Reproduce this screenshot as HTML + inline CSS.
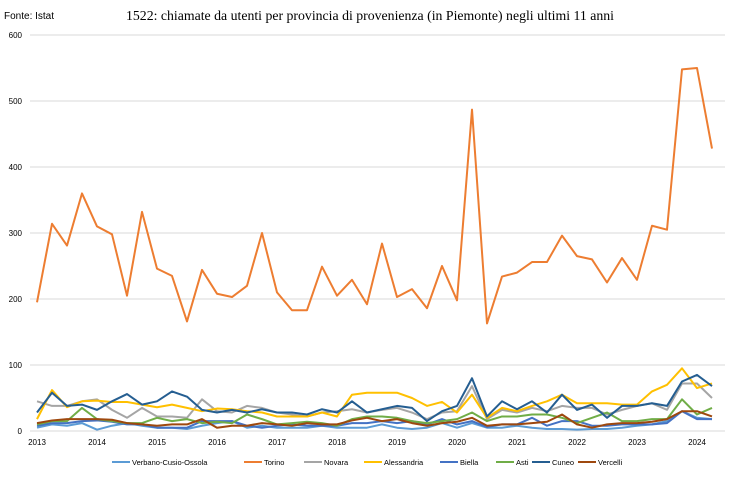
<!DOCTYPE html><html><head><meta charset="utf-8"><style>
body{margin:0;background:#fff;width:730px;height:477px;overflow:hidden;font-family:"Liberation Sans",sans-serif}
</style></head><body>
<svg id="s" width="730" height="477" xmlns="http://www.w3.org/2000/svg">
<rect width="730" height="477" fill="#fff"/>
<text x="4" y="19" font-size="10" font-family="Liberation Sans">Fonte: Istat</text>
<text x="126" y="20" font-size="13.8" font-family="Liberation Serif">1522: chiamate da utenti per provincia di provenienza (in Piemonte) negli ultimi 11 anni</text>
</svg>
<script>
const s=document.getElementById('s');const NS='http://www.w3.org/2000/svg';
function el(t,a,txt){const e=document.createElementNS(NS,t);for(const k in a)e.setAttribute(k,a[k]);if(txt!==undefined)e.textContent=txt;s.appendChild(e);return e;}
const Y=v=>431-v*0.66, X=i=>37+15*i;
for(let v=0;v<=600;v+=100){el('line',{x1:30,x2:725,y1:Y(v),y2:Y(v),stroke:'#d9d9d9','stroke-width':1});
el('text',{x:22,y:Y(v)+3,'font-size':8,'text-anchor':'end'},v);}
for(let y=2013;y<=2024;y++)el('text',{x:37+(y-2013)*60,y:445,'font-size':8,'text-anchor':'middle'},y);
const D={
'Verbano-Cusio-Ossola':['#5b9bd5',[5,10,8,12,2,8,12,8,5,5,3,8,12,15,5,8,5,5,5,8,5,5,5,10,5,3,5,12,5,12,5,5,8,5,3,3,2,3,3,5,8,10,15,30,20,18]],
'Torino':['#ed7d31',[195,314,281,360,310,298,205,332,246,235,166,244,208,203,220,300,210,183,183,249,205,229,192,284,203,215,186,250,198,487,163,234,240,256,256,296,265,260,225,262,229,311,305,548,550,428]],
'Novara':['#a5a5a5',[45,38,38,45,48,32,20,35,22,22,20,48,30,28,38,35,28,25,22,28,30,33,28,32,35,28,18,28,30,68,18,32,28,35,30,38,35,35,25,32,38,42,32,72,72,50]],
'Alessandria':['#ffc000',[18,62,36,45,46,44,44,40,36,40,35,30,34,33,30,28,22,22,22,28,22,55,58,58,58,50,38,44,28,55,20,35,30,38,45,55,42,42,42,40,40,60,70,95,65,72]],
'Biella':['#4472c4',[8,12,12,15,16,14,10,10,5,5,5,15,15,15,8,5,8,10,8,8,8,12,12,15,12,15,10,18,10,15,6,10,10,20,8,15,15,8,8,10,10,10,12,30,18,18]],
'Asti':['#70ad47',[10,15,15,35,18,15,12,12,20,15,18,12,14,12,25,18,10,12,14,12,8,18,22,22,20,15,12,15,18,28,15,22,22,25,25,20,12,20,28,15,15,18,18,48,25,35]],
'Cuneo':['#255e91',[28,58,38,40,32,45,56,40,45,60,52,32,28,32,28,33,28,28,25,33,28,45,28,33,38,35,15,30,38,80,22,45,33,45,28,55,32,40,20,38,38,42,38,75,85,68]],
'Vercelli':['#9e480e',[12,16,18,18,18,17,12,10,8,10,10,18,5,8,8,12,10,8,12,10,10,16,20,15,18,12,8,12,14,20,8,10,10,12,14,25,10,5,10,12,12,14,18,30,30,22]]};
let lx=[112,244,304,364,440,496,532,578];let k=0;
for(const n in D){const [c,v]=D[n];el('polyline',{points:v.map((y,i)=>X(i)+','+Y(y)).join(' '),fill:'none',stroke:c,'stroke-width':2,'stroke-linejoin':'round'});
el('line',{x1:lx[k],x2:lx[k]+18,y1:462,y2:462,stroke:c,'stroke-width':2});
el('text',{x:lx[k]+20,y:465,'font-size':7.5},n);k++;}
</script>
</body></html>
